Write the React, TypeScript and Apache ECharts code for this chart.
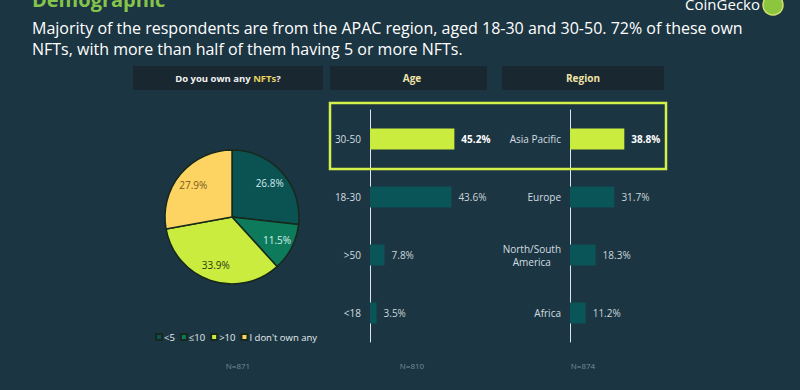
import React, { useEffect, useRef } from "react";
import * as echarts from "echarts";

const pieNames = ["<5", "≤10", ">10", "I don't own any"];
const pieValues = [26.8, 11.5, 33.9, 27.9];
const pieColors = ["#0b5253", "#0e7a5c", "#c9ec3e", "#fdd462"];
const pieLabelColors = ["#cfe9ee", "#d5f0e8", "#2b3a14", "#7a5a1e"];

const ageCats = ["30-50", "18-30", ">50", "<18"];
const ageValues = [45.2, 43.6, 7.8, 3.5];

const regionCats = ["Asia Pacific", "Europe", "North/South\nAmerica", "Africa"];
const regionValues = [38.8, 31.7, 18.3, 11.2];

const sampleSizes = ["N=871", "N=810", "N=874"];

const BG = "#1c3542";
const LIME = "#c9ec3e";
const TEAL = "#0a5558";
const FONT = "Open Sans";

function barSeries(values: number[], idx: number) {
  return {
    type: "bar",
    xAxisIndex: idx,
    yAxisIndex: idx,
    barWidth: 21,
    data: values.map((v, i) => ({
      value: v,
      itemStyle: { color: i === 0 ? LIME : TEAL },
    })),
    label: {
      show: true,
      position: "right",
      distance: 7,
      formatter: (p: any) =>
        p.dataIndex === 0 ? `{b|${p.value.toFixed(1)}%}` : `{n|${p.value.toFixed(1)}%}`,
      rich: {
        b: { color: "#ffffff", fontWeight: "bold", fontSize: 10, fontFamily: FONT },
        n: { color: "#c9d5d9", fontSize: 10, fontFamily: FONT },
      },
    },
  };
}

function catAxis(cats: string[], idx: number) {
  return {
    type: "category",
    gridIndex: idx,
    inverse: true,
    data: cats,
    axisLine: { show: true, lineStyle: { color: "#dbe6ea", width: 1 } },
    axisTick: { show: false },
    axisLabel: {
      color: "#d3dde0",
      fontSize: 10,
      fontFamily: FONT,
      margin: 9,
      formatter: (v: string) =>
        v.includes("\n") ? v.split("\n").map((s) => `{c|${s}}`).join("\n") : v,
      rich: {
        c: { align: "center", color: "#d3dde0", fontSize: 10, fontFamily: FONT, lineHeight: 13 },
      },
    },
  };
}

export default function App() {
  const ref = useRef<HTMLDivElement>(null);
  useEffect(() => {
    document.body.style.margin = "0";
    document.body.style.background = BG;
    if (!ref.current) return;
    const chart = echarts.init(ref.current, null, { renderer: "svg" });
    const headerBox = (x: number, w: number) => ({
      type: "rect",
      shape: { x, y: 66, width: w, height: 24 },
      style: { fill: "#182730" },
      z: 0,
    });
    const option: any = {
      animation: false,
      backgroundColor: BG,
      tooltip: { show: false },
      grid: [
        { left: 370, top: 110, width: 112, height: 232 },
        { left: 570, top: 110, width: 84, height: 232 },
      ],
      xAxis: [
        { type: "value", gridIndex: 0, min: 0, max: 60, show: false },
        { type: "value", gridIndex: 1, min: 0, max: 60, show: false },
      ],
      yAxis: [catAxis(ageCats, 0), catAxis(regionCats, 1)],
      legend: {
        data: pieNames,
        left: 155,
        top: 332,
        padding: 0,
        itemWidth: 6,
        itemHeight: 6,
        itemGap: 5,
        icon: "rect",
        selectedMode: false,
        textStyle: { color: "#e6eef0", fontSize: 9.5, fontFamily: FONT, padding: [0, 0, 0, -3] },
      },
      series: [
        {
          type: "pie",
          name: "own",
          center: [232, 217],
          radius: [0, 67],
          startAngle: 90,
          clockwise: true,
          silent: true,
          data: pieNames.map((n, i) => ({
            name: n,
            value: pieValues[i],
            itemStyle: { color: pieColors[i] },
          })),
          itemStyle: { borderColor: "#17281c", borderWidth: 1.5 },
          label: { show: false },
          labelLine: { show: false },
        },
        {
          type: "pie",
          name: "labels",
          center: [232, 217],
          radius: [28, 67],
          startAngle: 90,
          clockwise: true,
          silent: true,
          data: pieNames.map((n, i) => ({
            name: n,
            value: pieValues[i],
            itemStyle: { color: "rgba(0,0,0,0)" },
            label: { color: pieLabelColors[i] },
          })),
          label: {
            show: true,
            position: "inside",
            fontSize: 10,
            fontFamily: FONT,
            formatter: (p: any) => `${p.value.toFixed(1)}%`,
          },
          labelLine: { show: false },
        },
        barSeries(ageValues, 0),
        barSeries(regionValues, 1),
      ],
      graphic: [
        {
          type: "text",
          x: 32,
          y: 9,
          style: { text: "Demographic", fill: "#84c44a", fontSize: 20, fontWeight: "bold", fontFamily: FONT, verticalAlign: "bottom" },
        },
        {
          type: "text",
          x: 32,
          y: 17,
          style: {
            text:
              "Majority of the respondents are from the APAC region, aged 18-30 and 30-50. 72% of these own\nNFTs, with more than half of them having 5 or more NFTs.",
            fill: "#ffffff",
            fontSize: 16,
            lineHeight: 21,
            fontFamily: FONT,
          },
        },
        {
          type: "text",
          x: 760,
          y: 4,
          style: { text: "CoinGecko", fill: "#ffffff", fontSize: 15, fontFamily: FONT, align: "right", verticalAlign: "middle" },
        },
        {
          type: "circle",
          shape: { cx: 773, cy: 5, r: 10 },
          style: { fill: "#8cc63f", stroke: "#cfe36a", lineWidth: 1.5 },
        },
        headerBox(133, 190),
        headerBox(330, 157),
        headerBox(502, 162),
        {
          type: "text",
          x: 228,
          y: 78,
          style: {
            text: "{w|Do you own any }{y|NFTs}{w|?}",
            align: "center",
            verticalAlign: "middle",
            rich: {
              w: { fill: "#f2f2f2", fontSize: 9.5, fontWeight: "bold", fontFamily: FONT },
              y: { fill: "#e6d25c", fontSize: 9.5, fontWeight: "bold", fontFamily: FONT },
            },
          },
        },
        {
          type: "text",
          x: 412,
          y: 78,
          style: { text: "Age", fill: "#efe3a8", fontSize: 10, fontWeight: "bold", fontFamily: FONT, align: "center", verticalAlign: "middle" },
        },
        {
          type: "text",
          x: 583,
          y: 78,
          style: { text: "Region", fill: "#efe3a8", fontSize: 10, fontWeight: "bold", fontFamily: FONT, align: "center", verticalAlign: "middle" },
        },
        {
          type: "rect",
          shape: { x: 330, y: 103, width: 336, height: 66 },
          style: { fill: "none", stroke: "#d4f04a", lineWidth: 2.5 },
          z: 10,
        },
        ...[238, 412, 583].map((x, i) => ({
          type: "text",
          x,
          y: 365,
          style: { text: sampleSizes[i], fill: "#748f99", fontSize: 8, fontFamily: FONT, align: "center", verticalAlign: "middle" },
        })),
      ],
    };
    chart.setOption(option);
    return () => chart.dispose();
  }, []);
  return <div ref={ref} style={{ width: 800, height: 390 }} />;
}
